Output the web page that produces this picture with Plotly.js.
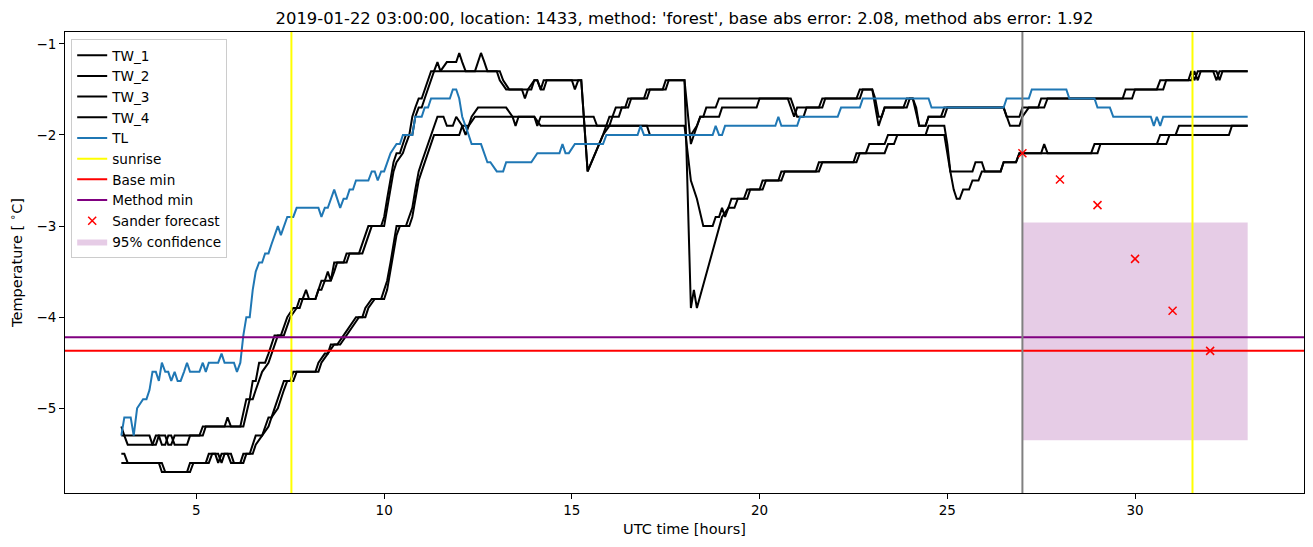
<!DOCTYPE html>
<html><head><meta charset="utf-8">
<script src="https://cdn.plot.ly/plotly-3.0.1.min.js"></script>
<style>html,body{margin:0;padding:0;background:#fff}#chart{width:1313px;height:547px}</style>
</head><body><div id="chart"></div>
<script>
// ---- data: [UTC hour, temperature °C] ----
const TW_1 = [[3.0,-5.2],[3.08,-5.3],[3.75,-5.3],[3.83,-5.4],[3.92,-5.4],[4.0,-5.3],[4.17,-5.3],[4.25,-5.4],[4.33,-5.4],[4.42,-5.3],[5.08,-5.3],[5.17,-5.2],[5.75,-5.2],[5.83,-5.1],[5.92,-5.2],[6.17,-5.2],[6.33,-4.9],[6.42,-4.9],[6.5,-4.7],[6.58,-4.7],[6.67,-4.5],[6.83,-4.5],[6.92,-4.4],[7.0,-4.3],[7.08,-4.2],[7.25,-4.2],[7.33,-4.1],[7.42,-4.0],[7.58,-3.9],[7.67,-3.9],[7.75,-3.8],[7.83,-3.8],[7.92,-3.7],[8.0,-3.8],[8.17,-3.8],[8.25,-3.7],[8.33,-3.6],[8.42,-3.6],[8.5,-3.5],[8.58,-3.6],[8.67,-3.4],[8.92,-3.4],[9.0,-3.3],[9.33,-3.3],[9.42,-3.2],[9.5,-3.1],[9.58,-3.0],[9.92,-3.0],[10.0,-2.9],[10.08,-2.7],[10.17,-2.5],[10.25,-2.3],[10.33,-2.2],[10.42,-2.2],[10.5,-2.1],[10.58,-2.0],[10.67,-2.0],[10.75,-1.8],[10.83,-1.7],[10.92,-1.6],[11.0,-1.6],[11.08,-1.5],[11.17,-1.4],[11.25,-1.3],[11.33,-1.3],[11.42,-1.2],[11.5,-1.3],[11.67,-1.2],[11.92,-1.2],[12.0,-1.1],[12.08,-1.2],[12.17,-1.3],[12.42,-1.3],[12.5,-1.2],[12.58,-1.1],[12.67,-1.2],[12.75,-1.3],[13.0,-1.3],[13.08,-1.4],[13.25,-1.5],[13.67,-1.5],[13.75,-1.6],[13.83,-1.5],[14.0,-1.4],[14.08,-1.4],[14.17,-1.5],[14.25,-1.4],[15.0,-1.4],[15.08,-1.5],[15.17,-1.4],[15.25,-1.4],[15.42,-2.4],[15.83,-2.0],[16.0,-1.8],[16.08,-1.8],[16.17,-1.7],[16.42,-1.7],[16.5,-1.6],[16.92,-1.6],[17.0,-1.5],[17.42,-1.5],[17.5,-1.4],[18.0,-1.4],[18.17,-3.9],[18.25,-3.7],[18.33,-3.9],[19.0,-2.9],[19.17,-2.8],[19.25,-2.7],[19.58,-2.7],[19.67,-2.6],[20.0,-2.6],[20.08,-2.5],[20.5,-2.5],[20.58,-2.4],[21.5,-2.4],[21.58,-2.3],[22.5,-2.3],[22.58,-2.2],[22.83,-2.2],[22.92,-2.1],[23.33,-2.1],[23.42,-2.0],[24.92,-2.0],[25.08,-2.4],[25.67,-2.4],[25.75,-2.3],[25.92,-2.3],[26.0,-2.4],[26.42,-2.4],[26.5,-2.3],[26.83,-2.3],[26.92,-2.2],[27.5,-2.2],[27.58,-2.1],[27.67,-2.2],[28.83,-2.2],[28.92,-2.1],[30.58,-2.1],[30.67,-2.0],[31.08,-2.0],[31.17,-1.9],[33.0,-1.9]];
const TW_2 = [[3.0,-5.3],[3.08,-5.3],[3.17,-5.4],[3.83,-5.4],[3.92,-5.3],[4.0,-5.3],[4.08,-5.4],[4.17,-5.4],[4.25,-5.3],[4.33,-5.3],[4.42,-5.4],[4.75,-5.4],[4.83,-5.3],[5.17,-5.3],[5.25,-5.2],[6.25,-5.2],[6.42,-4.9],[6.5,-4.9],[6.58,-4.8],[6.67,-4.7],[6.75,-4.6],[6.92,-4.5],[7.0,-4.4],[7.08,-4.3],[7.17,-4.2],[7.33,-4.2],[7.42,-4.1],[7.5,-4.0],[7.67,-3.9],[7.75,-3.9],[7.83,-3.8],[8.17,-3.8],[8.25,-3.7],[8.33,-3.7],[8.42,-3.6],[8.58,-3.6],[8.67,-3.5],[8.75,-3.4],[9.0,-3.4],[9.08,-3.3],[9.42,-3.3],[9.5,-3.2],[9.58,-3.1],[9.67,-3.0],[10.0,-3.0],[10.08,-2.8],[10.17,-2.6],[10.25,-2.4],[10.33,-2.3],[10.5,-2.2],[10.58,-2.1],[10.67,-2.0],[10.75,-2.0],[10.83,-1.8],[10.92,-1.7],[11.0,-1.7],[11.08,-1.6],[11.17,-1.5],[11.25,-1.4],[11.33,-1.3],[13.08,-1.3],[13.17,-1.4],[13.33,-1.5],[13.92,-1.5],[14.0,-1.4],[14.08,-1.4],[14.17,-1.5],[14.25,-1.5],[14.33,-1.4],[15.25,-1.4],[15.42,-2.4],[15.83,-2.0],[16.0,-1.9],[16.08,-1.8],[16.25,-1.8],[16.33,-1.7],[16.5,-1.7],[16.58,-1.6],[17.0,-1.6],[17.08,-1.5],[17.5,-1.5],[17.58,-1.4],[18.0,-1.4],[18.17,-2.1],[18.25,-2.0],[18.33,-1.9],[18.42,-1.8],[18.5,-1.8],[18.58,-1.7],[18.83,-1.7],[18.92,-1.6],[20.75,-1.6],[20.92,-1.8],[21.0,-1.7],[21.58,-1.7],[21.67,-1.6],[22.58,-1.6],[22.67,-1.5],[23.0,-1.5],[23.17,-1.9],[23.25,-1.8],[23.33,-1.7],[23.83,-1.7],[23.92,-1.6],[24.08,-1.6],[24.25,-1.9],[24.42,-1.9],[24.5,-1.8],[24.83,-1.8],[24.92,-1.7],[26.5,-1.7],[26.58,-1.8],[26.67,-1.9],[26.92,-1.9],[27.0,-1.8],[27.17,-1.7],[27.42,-1.7],[27.5,-1.6],[29.67,-1.6],[29.75,-1.5],[30.58,-1.5],[30.67,-1.4],[31.42,-1.4],[31.5,-1.3],[31.58,-1.4],[31.67,-1.3],[32.08,-1.3],[32.17,-1.4],[32.25,-1.3],[33.0,-1.3]];
const TW_3 = [[3.0,-5.5],[3.08,-5.5],[3.17,-5.6],[4.0,-5.6],[4.08,-5.7],[4.75,-5.7],[4.83,-5.6],[5.25,-5.6],[5.33,-5.5],[5.58,-5.5],[5.67,-5.6],[5.75,-5.5],[5.92,-5.5],[6.0,-5.6],[6.17,-5.6],[6.25,-5.5],[6.42,-5.5],[6.5,-5.4],[6.58,-5.3],[6.75,-5.3],[6.83,-5.2],[6.92,-5.1],[7.0,-5.1],[7.08,-5.0],[7.25,-4.8],[7.33,-4.7],[7.5,-4.7],[7.58,-4.6],[8.17,-4.6],[8.25,-4.5],[8.42,-4.4],[8.5,-4.4],[8.58,-4.3],[8.75,-4.3],[8.92,-4.2],[9.08,-4.1],[9.25,-4.0],[9.42,-4.0],[9.5,-3.9],[9.67,-3.8],[9.92,-3.8],[10.0,-3.7],[10.08,-3.6],[10.17,-3.4],[10.25,-3.2],[10.33,-3.0],[10.58,-3.0],[10.67,-2.9],[10.75,-2.8],[10.83,-2.6],[10.92,-2.4],[11.0,-2.3],[11.08,-2.2],[11.17,-2.1],[11.25,-2.0],[11.33,-1.9],[11.42,-1.8],[11.58,-1.8],[11.67,-1.9],[11.83,-1.9],[11.92,-1.8],[12.08,-1.9],[12.25,-1.9],[12.33,-1.8],[12.5,-1.7],[13.25,-1.7],[13.42,-1.8],[13.5,-1.9],[13.58,-1.8],[14.0,-1.8],[14.08,-1.9],[14.17,-1.8],[15.58,-1.8],[15.67,-1.9],[18.0,-1.9],[18.17,-2.5],[18.33,-2.7],[18.5,-3.0],[18.75,-3.0],[18.83,-2.9],[18.92,-2.9],[19.0,-2.8],[19.08,-2.9],[19.17,-2.8],[19.33,-2.8],[19.42,-2.7],[19.67,-2.7],[19.75,-2.6],[20.08,-2.6],[20.17,-2.5],[20.58,-2.5],[20.67,-2.4],[21.58,-2.4],[21.67,-2.3],[22.58,-2.3],[22.67,-2.2],[23.33,-2.2],[23.42,-2.1],[23.58,-2.1],[23.67,-2.0],[24.42,-2.0],[24.5,-1.9],[24.92,-1.9],[25.0,-2.1],[25.08,-2.4],[25.17,-2.6],[25.25,-2.7],[25.33,-2.7],[25.42,-2.6],[25.58,-2.6],[25.67,-2.5],[25.83,-2.5],[25.92,-2.4],[26.42,-2.4],[26.5,-2.3],[26.83,-2.3],[26.92,-2.2],[29.0,-2.2],[29.08,-2.1],[30.83,-2.1],[30.92,-2.0],[32.5,-2.0],[32.58,-1.9],[33.0,-1.9]];
const TW_4 = [[3.0,-5.6],[4.08,-5.6],[4.17,-5.7],[4.83,-5.7],[4.92,-5.6],[5.33,-5.6],[5.42,-5.5],[5.5,-5.5],[5.58,-5.6],[5.67,-5.5],[5.83,-5.5],[5.92,-5.6],[6.25,-5.6],[6.33,-5.5],[6.5,-5.5],[6.58,-5.4],[6.75,-5.3],[6.92,-5.2],[7.0,-5.1],[7.17,-5.0],[7.33,-4.8],[7.42,-4.7],[7.58,-4.7],[7.67,-4.6],[8.25,-4.6],[8.33,-4.5],[8.5,-4.4],[8.67,-4.3],[8.83,-4.3],[9.0,-4.2],[9.17,-4.1],[9.33,-4.0],[9.5,-4.0],[9.58,-3.9],[9.75,-3.8],[10.0,-3.8],[10.08,-3.7],[10.17,-3.5],[10.25,-3.3],[10.33,-3.1],[10.42,-3.0],[10.67,-3.0],[10.75,-2.9],[10.83,-2.7],[10.92,-2.5],[11.0,-2.4],[11.08,-2.3],[11.17,-2.2],[11.25,-2.1],[11.33,-2.0],[12.0,-2.0],[12.08,-1.9],[12.17,-2.0],[12.25,-1.9],[12.42,-1.8],[14.0,-1.8],[14.17,-1.9],[17.0,-1.9],[17.08,-2.0],[18.17,-2.0],[18.33,-1.9],[18.42,-1.8],[18.92,-1.8],[19.0,-1.7],[19.92,-1.7],[20.0,-1.6],[20.83,-1.6],[20.92,-1.7],[21.0,-1.8],[21.17,-1.8],[21.25,-1.7],[21.67,-1.7],[21.75,-1.6],[22.67,-1.6],[22.75,-1.5],[23.0,-1.5],[23.08,-1.6],[23.17,-1.8],[23.25,-1.8],[23.33,-1.7],[23.92,-1.7],[24.0,-1.6],[24.08,-1.6],[24.17,-1.7],[24.25,-1.9],[24.42,-1.9],[24.5,-1.8],[24.92,-1.8],[25.0,-1.7],[26.5,-1.7],[26.58,-1.8],[26.92,-1.8],[27.0,-1.7],[27.58,-1.7],[27.67,-1.6],[29.92,-1.6],[30.0,-1.5],[30.75,-1.5],[30.83,-1.4],[31.5,-1.4],[31.58,-1.3],[31.67,-1.4],[31.75,-1.3],[32.17,-1.3],[32.25,-1.4],[32.33,-1.3],[33.0,-1.3]];
const TL = [[3.0,-5.3],[3.08,-5.1],[3.25,-5.1],[3.33,-5.3],[3.42,-5.0],[3.58,-4.9],[3.67,-4.9],[3.75,-4.8],[3.83,-4.6],[3.92,-4.6],[4.0,-4.7],[4.08,-4.5],[4.17,-4.6],[4.25,-4.6],[4.33,-4.7],[4.42,-4.6],[4.5,-4.7],[4.58,-4.7],[4.67,-4.6],[4.75,-4.5],[4.83,-4.6],[5.08,-4.6],[5.17,-4.5],[5.25,-4.6],[5.33,-4.5],[5.58,-4.5],[5.67,-4.4],[5.75,-4.5],[6.0,-4.5],[6.08,-4.6],[6.17,-4.5],[6.25,-4.2],[6.33,-4.0],[6.42,-4.0],[6.5,-3.7],[6.58,-3.5],[6.67,-3.4],[6.75,-3.4],[6.83,-3.3],[6.92,-3.3],[7.0,-3.2],[7.08,-3.1],[7.17,-3.0],[7.25,-3.1],[7.42,-2.9],[7.58,-2.9],[7.67,-2.8],[8.25,-2.8],[8.33,-2.9],[8.42,-2.8],[8.5,-2.8],[8.67,-2.6],[8.83,-2.8],[8.92,-2.7],[9.0,-2.7],[9.08,-2.6],[9.17,-2.6],[9.25,-2.5],[9.58,-2.5],[9.67,-2.4],[9.75,-2.4],[9.83,-2.5],[9.92,-2.4],[10.0,-2.4],[10.17,-2.2],[10.33,-2.1],[10.42,-2.1],[10.5,-2.0],[10.75,-2.0],[10.83,-1.8],[11.0,-1.8],[11.08,-1.7],[11.17,-1.7],[11.25,-1.6],[11.75,-1.6],[11.83,-1.5],[11.92,-1.5],[12.0,-1.6],[12.08,-1.8],[12.25,-2.0],[12.33,-2.1],[12.58,-2.1],[12.75,-2.3],[12.83,-2.3],[13.0,-2.4],[13.17,-2.4],[13.25,-2.3],[13.92,-2.3],[14.08,-2.2],[14.67,-2.2],[14.75,-2.1],[14.83,-2.2],[14.92,-2.2],[15.08,-2.1],[15.83,-2.1],[15.92,-2.0],[16.75,-2.0],[16.83,-1.9],[16.92,-2.0],[18.75,-2.0],[18.83,-1.9],[18.92,-2.0],[19.0,-2.0],[19.08,-1.9],[20.42,-1.9],[20.5,-1.8],[20.58,-1.9],[21.0,-1.9],[21.08,-1.8],[22.08,-1.8],[22.17,-1.7],[22.67,-1.7],[22.75,-1.6],[24.5,-1.6],[24.58,-1.7],[26.5,-1.7],[26.58,-1.6],[27.17,-1.6],[27.25,-1.5],[28.17,-1.5],[28.25,-1.6],[28.92,-1.6],[29.0,-1.7],[29.33,-1.7],[29.42,-1.8],[30.42,-1.8],[30.5,-1.9],[30.58,-1.8],[30.67,-1.9],[30.75,-1.8],[33.0,-1.8]];

const sunriseHours = [7.53, 31.53];
const forecastStart = 27;
const baseMin = -4.37;
const methodMin = -4.22;
const forecastHours = [27, 28, 29, 30, 31, 32];
const forecastTemps = [-2.2, -2.49, -2.77, -3.36, -3.93, -4.37];
const confHours = [27, 33];
const confTemps = [-5.35, -2.96];

const xRange = [1.5, 34.5];
const yRange = [-5.93, -0.87];

const px = s => s.map(p => p[0]);
const py = s => s.map(p => p[1]);

const FONT = 'DejaVu Sans, Liberation Sans, sans-serif';
const traces = [];

// confidence box (drawn first, listed last)
traces.push({
  x: [confHours[0], confHours[1], confHours[1], confHours[0], confHours[0]],
  y: [confTemps[0], confTemps[0], confTemps[1], confTemps[1], confTemps[0]],
  mode: 'lines', fill: 'toself', fillcolor: 'rgba(128,0,128,0.2)',
  line: {width: 0, color: 'rgba(128,0,128,0)'}, name: '95% confidence', legendrank: 10, hoverinfo: 'skip'
});

[['TW_1', TW_1], ['TW_2', TW_2], ['TW_3', TW_3], ['TW_4', TW_4]].forEach(([n, s], i) => {
  traces.push({x: px(s), y: py(s), mode: 'lines', name: n, line: {color: '#000000', width: 2}, legendrank: i + 1});
});
traces.push({x: px(TL), y: py(TL), mode: 'lines', name: 'TL', line: {color: '#1f77b4', width: 2}, legendrank: 5});

traces.push({
  x: [sunriseHours[0], sunriseHours[0], null, sunriseHours[1], sunriseHours[1]],
  y: [yRange[0], yRange[1], null, yRange[0], yRange[1]],
  mode: 'lines', name: 'sunrise', line: {color: '#ffff00', width: 2}, legendrank: 6
});
traces.push({x: xRange, y: [baseMin, baseMin], mode: 'lines', name: 'Base min', line: {color: '#ff0000', width: 2}, legendrank: 7});
traces.push({x: xRange, y: [methodMin, methodMin], mode: 'lines', name: 'Method min', line: {color: '#800080', width: 2}, legendrank: 8});
traces.push({x: [forecastStart, forecastStart], y: yRange, mode: 'lines', showlegend: false, line: {color: '#808080', width: 2}});
traces.push({
  x: forecastHours, y: forecastTemps, mode: 'markers', name: 'Sander forecast',
  marker: {symbol: 'x-thin-open', size: 8, color: '#ff0000', line: {color: '#ff0000', width: 1.5}}, legendrank: 9
});

const axisCommon = {
  showline: true, linecolor: '#000', linewidth: 1, mirror: true,
  ticks: 'outside', ticklen: 5, tickwidth: 1, tickcolor: '#000',
  showgrid: false, zeroline: false, automargin: false,
  tickfont: {family: FONT, size: 13.5, color: '#000'}
};

const layout = {
  width: 1313, height: 547,
  margin: {l: 65, r: 9, t: 32, b: 54},
  paper_bgcolor: '#fff', plot_bgcolor: '#fff',
  font: {family: FONT, color: '#000'},
  title: {
    text: "2019-01-22 03:00:00, location: 1433, method: 'forest', base abs error: 2.08, method abs error: 1.92",
    font: {family: FONT, size: 16.4, color: '#000'},
    x: 0.5, xref: 'paper', xanchor: 'center', y: 1 - 18 / 547, yref: 'container', yanchor: 'middle'
  },
  xaxis: Object.assign({}, axisCommon, {
    range: xRange, tick0: 0, dtick: 5,
    title: {text: 'UTC time [hours]', font: {family: FONT, size: 14.5, color: '#000'}, standoff: 6}
  }),
  yaxis: Object.assign({}, axisCommon, {
    range: yRange, tick0: 0, dtick: 1,
    title: {text: 'Temperature [ <sup>∘</sup>C]', font: {family: FONT, size: 14.5, color: '#000'}, standoff: 10}
  }),
  showlegend: true,
  legend: {
    x: 0.005, y: 0.985, xanchor: 'left', yanchor: 'top',
    bgcolor: 'rgba(255,255,255,0.8)', bordercolor: '#cccccc', borderwidth: 1,
    font: {family: FONT, size: 13.6, color: '#000'}
  }
};

Plotly.newPlot('chart', traces, layout, {displayModeBar: false, staticPlot: true});
</script>
</body></html>
